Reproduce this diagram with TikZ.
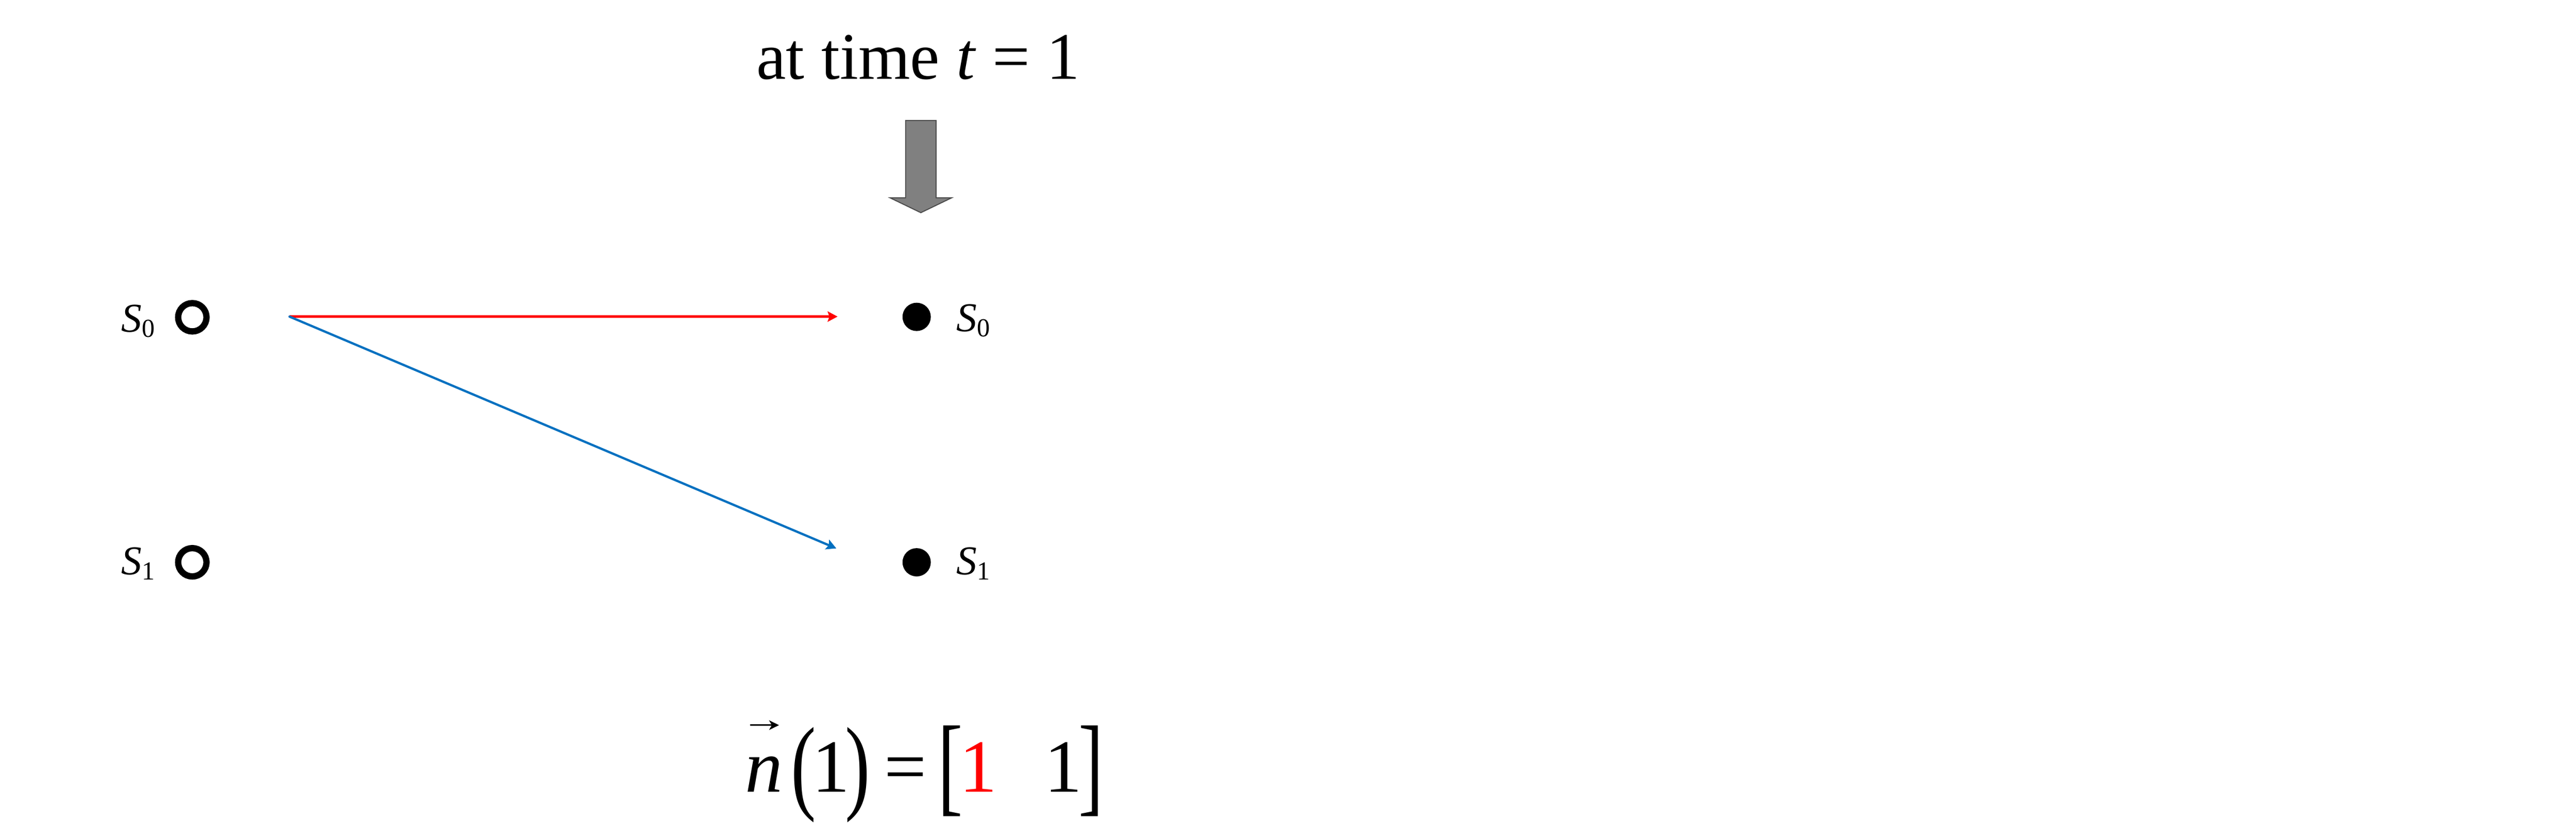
\documentclass[tikz,border=0pt]{standalone}
\usepackage{fontspec}
\setmainfont{Liberation Serif}
\usepackage{graphicx}
\usepackage{tikz}
\usetikzlibrary{arrows.meta}
\usetikzlibrary{calc}
\definecolor{jumpblue}{RGB}{0,112,192}
\definecolor{jumpred}{RGB}{255,0,0}
\tikzstyle{emptyvertex}=[circle,draw=black,line width=1.85pt,minimum size=0.2917cm,inner sep=0pt]
\tikzstyle{fullvertex}=[circle,fill=black,minimum size=0.2913cm,inner sep=0pt]
\tikzstyle{statelabel}=[inner sep=0pt,font=\fontsize{12}{14}\selectfont]
\tikzstyle{edge} = [draw,line width=0.66pt,-{Stealth[length=2.9pt,width=3pt,inset=0.5pt]}]
\tikzstyle{vecarrow} = [draw,line width=0.43pt,-{Stealth[length=2.9pt,width=2.8pt,inset=0.8pt]}]
\tikzstyle{eqpart}=[inner sep=0pt,anchor=base,font=\fontsize{22}{26}\selectfont]
\tikzstyle{timearrow}=[fill=black!50,draw=black!70,line width=0.3pt]
\newcommand{\statename}[1]{\textit{S}\raisebox{-1.5pt}{\fontsize{7.6}{9}\selectfont #1}}
\newcommand{\tallglyph}[3]{\raisebox{#3}{\scalebox{1}[#2]{#1}}}

\begin{document}
\begin{tikzpicture}

    \path[fill=white,use as bounding box] (0,0) rectangle (26.52,-8.6033);

    % Title and the gray arrow under it
    \node[anchor=base,inner sep=0pt,font=\fontsize{19.5}{23}\selectfont] (title) at (9.455,-0.813) {at time \textit{t} = 1};
    \path[timearrow] (9.323,-1.24) -- (9.637,-1.24) -- (9.637,-2.037) -- (9.797,-2.037)
        -- (9.48,-2.19) -- (9.163,-2.037) -- (9.323,-2.037) -- cycle;

    % First we draw the states before the jump
    \foreach \pos/\name in {{(1.98,-3.267)/a0}, {(1.98,-5.79)/a1}}
        \node[emptyvertex] (\name) at \pos {};
    \foreach \pos/\name/\idx in {{(1.603,-3.417)/la0/0}, {(1.603,-5.917)/la1/1}}
        \node[statelabel,anchor=base east] (\name) at \pos {\statename{\idx}};

    % Then the states at t=1
    \foreach \pos/\name in {{(9.437,-3.263)/b0}, {(9.437,-5.79)/b1}}
        \node[fullvertex] (\name) at \pos {};
    \foreach \pos/\name/\idx in {{(9.84,-3.413)/lb0/0}, {(9.84,-5.917)/lb1/1}}
        \node[statelabel,anchor=base west] (\name) at \pos {\statename{\idx}};

    % Connect with the two jumps
    \coordinate (fork) at (2.98,-3.26);
    \coordinate (in0) at (8.623,-3.26);
    \coordinate (in1) at (8.61,-5.647);
    \path[edge,jumpred] (fork) -- (in0);
    \path[edge,jumpblue,line cap=round] (fork) -- (in1);

    % The count vector
    \node[eqpart] (nv) at (7.868,-8.153) {\textit{n}};
    \path[vecarrow] ([xshift=-0.148cm,yshift=0.686cm]nv.base) -- ([xshift=0.152cm,yshift=0.686cm]nv.base);
    \node[eqpart,anchor=base west] (vals) at (8.136,-8.153) {\tallglyph{(}{1.4}{-2.4pt}\hspace{-1.13pt}1\hspace{-1.37pt}\tallglyph{)}{1.4}{-2.4pt}\hspace{4.23pt}=\hspace{3.33pt}\tallglyph{[}{1.46}{-2.85pt}\hspace{-1.1pt}\textcolor{jumpred}{1}\hspace{13.97pt}1\hspace{-1.1pt}\tallglyph{]}{1.46}{-2.85pt}};

\end{tikzpicture}
\end{document}
